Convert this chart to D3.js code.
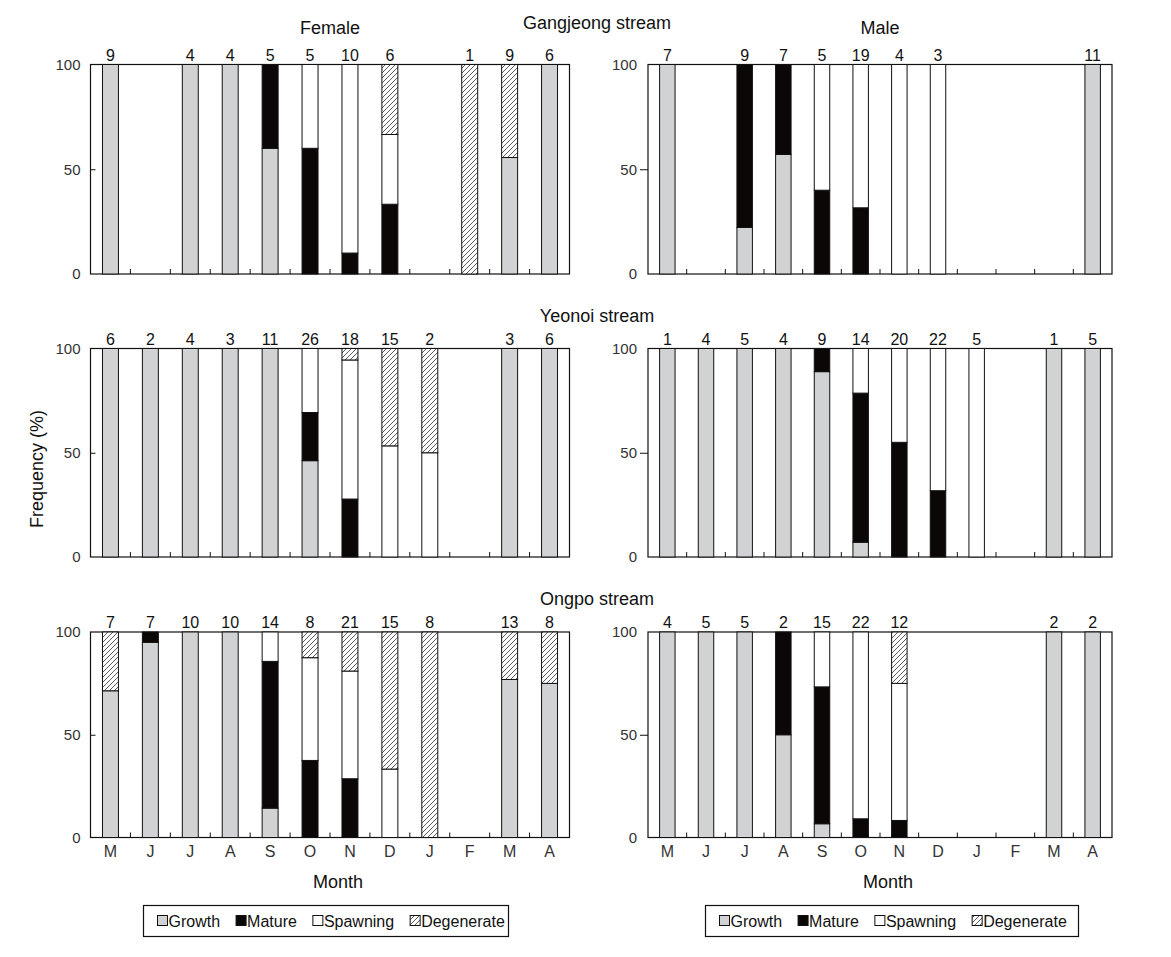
<!DOCTYPE html>
<html>
<head>
<meta charset="utf-8">
<script src="https://cdn.jsdelivr.net/npm/d3@7"></script>
<style>
  html, body { margin: 0; padding: 0; background: #fff; }
  svg { display: block; font-family: "Liberation Sans", Arial, sans-serif; }
</style>
</head>
<body>
<svg id="chart" width="1171" height="957"></svg>
<script>
// ---------------- DATA ----------------
const months = ["M","J","J","A","S","O","N","D","J","F","M","A"];
const stages = ["Growth","Mature","Spawning","Degenerate"];
const yTicks = [0, 50, 100];
const streams = ["Gangjeong stream","Yeonoi stream","Ongpo stream"];
const sexes = ["Female","Male"];

// Gangjeong stream - Female
const gjFemaleN          = [9, null, 4, 4, 5, 5, 10, 6, null, 1, 9, 6];
const gjFemaleGrowth     = [100, 0, 100, 100, 60, 0, 0, 0, 0, 0, 55.6, 100];
const gjFemaleMature     = [0, 0, 0, 0, 40, 60, 10, 33.3, 0, 0, 0, 0];
const gjFemaleSpawning   = [0, 0, 0, 0, 0, 40, 90, 33.3, 0, 0, 0, 0];
const gjFemaleDegenerate = [0, 0, 0, 0, 0, 0, 0, 33.4, 0, 100, 44.4, 0];
// Gangjeong stream - Male
const gjMaleN          = [7, null, 9, 7, 5, 19, 4, 3, null, null, null, 11];
const gjMaleGrowth     = [100, 0, 22.2, 57.1, 0, 0, 0, 0, 0, 0, 0, 100];
const gjMaleMature     = [0, 0, 77.8, 42.9, 40, 31.6, 0, 0, 0, 0, 0, 0];
const gjMaleSpawning   = [0, 0, 0, 0, 60, 68.4, 100, 100, 0, 0, 0, 0];
const gjMaleDegenerate = [0, 0, 0, 0, 0, 0, 0, 0, 0, 0, 0, 0];
// Yeonoi stream - Female
const yoFemaleN          = [6, 2, 4, 3, 11, 26, 18, 15, 2, null, 3, 6];
const yoFemaleGrowth     = [100, 100, 100, 100, 100, 46.2, 0, 0, 0, 0, 100, 100];
const yoFemaleMature     = [0, 0, 0, 0, 0, 23.1, 27.8, 0, 0, 0, 0, 0];
const yoFemaleSpawning   = [0, 0, 0, 0, 0, 30.7, 66.7, 53.3, 50, 0, 0, 0];
const yoFemaleDegenerate = [0, 0, 0, 0, 0, 0, 5.5, 46.7, 50, 0, 0, 0];
// Yeonoi stream - Male
const yoMaleN          = [1, 4, 5, 4, 9, 14, 20, 22, 5, null, 1, 5];
const yoMaleGrowth     = [100, 100, 100, 100, 88.9, 7.1, 0, 0, 0, 0, 100, 100];
const yoMaleMature     = [0, 0, 0, 0, 11.1, 71.5, 55, 31.8, 0, 0, 0, 0];
const yoMaleSpawning   = [0, 0, 0, 0, 0, 21.4, 45, 68.2, 100, 0, 0, 0];
const yoMaleDegenerate = [0, 0, 0, 0, 0, 0, 0, 0, 0, 0, 0, 0];
// Ongpo stream - Female
const opFemaleN          = [7, 7, 10, 10, 14, 8, 21, 15, 8, null, 13, 8];
const opFemaleGrowth     = [71.4, 95, 100, 100, 14.3, 0, 0, 0, 0, 0, 76.9, 75];
const opFemaleMature     = [0, 5, 0, 0, 71.4, 37.5, 28.6, 0, 0, 0, 0, 0];
const opFemaleSpawning   = [0, 0, 0, 0, 14.3, 50, 52.4, 33.3, 0, 0, 0, 0];
const opFemaleDegenerate = [28.6, 0, 0, 0, 0, 12.5, 19, 66.7, 100, 0, 23.1, 25];
// Ongpo stream - Male
const opMaleN          = [4, 5, 5, 2, 15, 22, 12, null, null, null, 2, 2];
const opMaleGrowth     = [100, 100, 100, 50, 6.7, 0, 0, 0, 0, 0, 100, 100];
const opMaleMature     = [0, 0, 0, 50, 66.6, 9.1, 8.3, 0, 0, 0, 0, 0];
const opMaleSpawning   = [0, 0, 0, 0, 26.7, 90.9, 66.7, 0, 0, 0, 0, 0];
const opMaleDegenerate = [0, 0, 0, 0, 0, 0, 25, 0, 0, 0, 0, 0];

// ---------------- LAYOUT ----------------
const svg = d3.select("#chart");
const colX = [{x0: 90.5, x1: 569.5}, {x0: 648, x1: 1112}];
const rowY = [{y0: 64.5, y1: 274}, {y0: 348.5, y1: 557}, {y0: 632, y1: 837.5}];
const fills = {Growth: "#d1d2d4", Mature: "#0c0707", Spawning: "#ffffff", Degenerate: "url(#hatch)"};

const defs = svg.append("defs");
const pat = defs.append("pattern").attr("id", "hatch")
  .attr("patternUnits", "userSpaceOnUse").attr("width", 5).attr("height", 5);
pat.append("rect").attr("width", 5).attr("height", 5).attr("fill", "#fff");
pat.append("path").attr("d", "M-1,1 l2,-2 M0,5 l5,-5 M4,6 l2,-2")
  .attr("stroke", "#333").attr("stroke-width", 0.8);

const panels = [
  [gjFemaleN, gjFemaleGrowth, gjFemaleMature, gjFemaleSpawning, gjFemaleDegenerate],
  [gjMaleN, gjMaleGrowth, gjMaleMature, gjMaleSpawning, gjMaleDegenerate],
  [yoFemaleN, yoFemaleGrowth, yoFemaleMature, yoFemaleSpawning, yoFemaleDegenerate],
  [yoMaleN, yoMaleGrowth, yoMaleMature, yoMaleSpawning, yoMaleDegenerate],
  [opFemaleN, opFemaleGrowth, opFemaleMature, opFemaleSpawning, opFemaleDegenerate],
  [opMaleN, opMaleGrowth, opMaleMature, opMaleSpawning, opMaleDegenerate]
];

panels.forEach((p, pi) => {
  const row = Math.floor(pi / 2), col = pi % 2;
  const {x0, x1} = colX[col];
  const {y0, y1} = rowY[row];
  const [nArr, ...series] = p;

  const x = d3.scaleBand().domain(d3.range(months.length)).range([x0, x1])
    .paddingInner(0.6).paddingOuter(0.3);
  const y = d3.scaleLinear().domain([0, 100]).range([y1, y0]);

  const g = svg.append("g");

  // frame
  g.append("rect").attr("x", x0).attr("y", y0).attr("width", x1 - x0).attr("height", y1 - y0)
    .attr("fill", "none").attr("stroke", "#111").attr("stroke-width", 1.2);

  // stacked data
  const rows = months.map((m, i) => {
    const o = {i};
    stages.forEach((s, si) => o[s] = series[si][i]);
    return o;
  });
  const stack = d3.stack().keys(stages)(rows);
  stack.forEach(layer => {
    g.append("g").selectAll("rect")
      .data(layer.filter(d => d[1] - d[0] > 0))
      .join("rect")
      .attr("x", d => x(d.data.i))
      .attr("width", x.bandwidth())
      .attr("y", d => y(d[1]))
      .attr("height", d => y(d[0]) - y(d[1]))
      .attr("fill", fills[layer.key])
      .attr("stroke", "#111").attr("stroke-width", 1);
  });

  // x ticks between categories (inward)
  const bounds = d3.range(1, months.length).map(i => x0 + i * x.step());
  g.append("g").selectAll("line").data(bounds).join("line")
    .attr("x1", d => d).attr("x2", d => d)
    .attr("y1", y1).attr("y2", y1 - 5)
    .attr("stroke", "#111").attr("stroke-width", 1);

  // y axis
  const yAxis = d3.axisLeft(y).tickValues(yTicks)
    .tickSize(col === 0 ? -5 : 8)
    .tickPadding(col === 0 ? 10 : 3);
  const ya = g.append("g").attr("transform", `translate(${x0},0)`).call(yAxis);
  ya.select(".domain").remove();
  ya.selectAll(".tick line").attr("stroke", "#111");
  ya.selectAll(".tick line").filter(d => d !== 50).remove();
  ya.selectAll(".tick text").attr("font-size", 15)
    .attr("font-family", "Liberation Sans, Arial, sans-serif").attr("fill", "#333");

  // n labels
  g.append("g").selectAll("text")
    .data(nArr.map((n, i) => ({n, i})).filter(d => d.n !== null))
    .join("text")
    .attr("x", d => x(d.i) + x.bandwidth() / 2)
    .attr("y", y0 - 4)
    .attr("text-anchor", "middle")
    .attr("font-size", 16).attr("fill", "#111")
    .text(d => d.n);

  // month labels on bottom row
  if (row === 2) {
    const xa = d3.axisBottom(x).tickFormat(i => months[i]).tickSize(0).tickPadding(8);
    const xg = g.append("g").attr("transform", `translate(0,${y1})`).call(xa);
    xg.select(".domain").remove();
    xg.selectAll(".tick text").attr("font-size", 16)
      .attr("font-family", "Liberation Sans, Arial, sans-serif").attr("fill", "#333");
    g.append("text").attr("x", (x0 + x1) / 2 + 8).attr("y", 888)
      .attr("text-anchor", "middle").attr("font-size", 18).attr("fill", "#111").text("Month");
  }
  // sex titles on top row
  if (row === 0) {
    g.append("text").attr("x", (x0 + x1) / 2).attr("y", 34)
      .attr("text-anchor", "middle").attr("font-size", 18).attr("fill", "#111").text(sexes[col]);
  }
});

// stream titles
const streamY = [29, 322, 605];
streams.forEach((s, i) => {
  svg.append("text").attr("x", 597).attr("y", streamY[i])
    .attr("text-anchor", "middle").attr("font-size", 18).attr("fill", "#111").text(s);
});

// y axis title
svg.append("text").attr("transform", "translate(43,469) rotate(-90)")
  .attr("text-anchor", "middle").attr("font-size", 18).attr("fill", "#111").text("Frequency (%)");

// legends
const legendBoxes = [{x: 143.5, y: 905.5, w: 365, h: 31}, {x: 705.5, y: 905.5, w: 373, h: 31}];
legendBoxes.forEach(b => {
  const lg = svg.append("g");
  lg.append("rect").attr("x", b.x).attr("y", b.y).attr("width", b.w).attr("height", b.h)
    .attr("fill", "#fff").attr("stroke", "#111").attr("stroke-width", 1.2);
  let cx = b.x + 14;
  const cy = b.y + b.h / 2;
  stages.forEach(s => {
    lg.append("rect").attr("x", cx).attr("y", cy - 5.5).attr("width", 10).attr("height", 10)
      .attr("fill", fills[s]).attr("stroke", "#111").attr("stroke-width", 1);
    const t = lg.append("text").attr("x", cx + 11).attr("y", cy + 6)
      .attr("font-size", 16).attr("fill", "#111").text(s);
    cx += 11 + t.node().getComputedTextLength() + 16;
  });
});
</script>
</body>
</html>
